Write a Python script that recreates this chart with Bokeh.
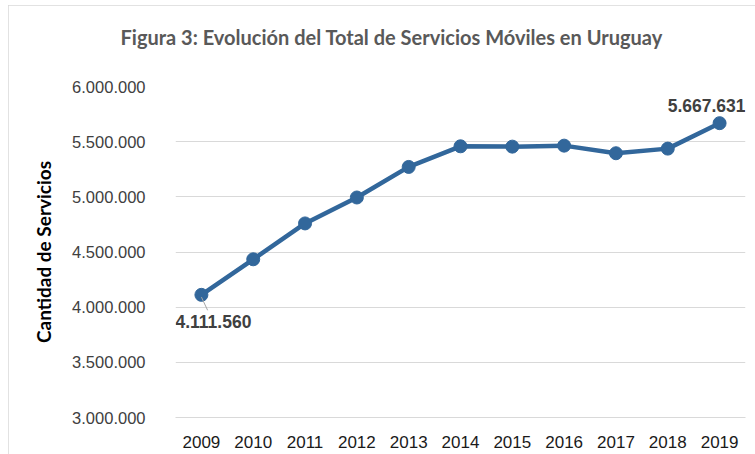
from bokeh.plotting import figure
from bokeh.models import Range1d, FixedTicker, Title, ColumnDataSource
from bokeh.core.properties import value
from bokeh.embed import file_html
from bokeh.resources import INLINE

years = ["2009", "2010", "2011", "2012", "2013", "2014", "2015", "2016", "2017", "2018", "2019"]
services = [4111560, 4434000, 4759000, 4994000, 5271000, 5458000, 5455000, 5464000, 5395000, 5437000, 5667631]
y_ticks = [3000000, 3500000, 4000000, 4500000, 5000000, 5500000, 6000000]
y_tick_labels = ["3.000.000", "3.500.000", "4.000.000", "4.500.000", "5.000.000", "5.500.000", "6.000.000"]
label_years = ["2009", "2019"]
label_texts = ["4.111.560", "5.667.631"]

LINE = "#32679B"
GRID = "#D9D9D9"

p = figure(width=747, height=449, x_range=years, y_range=Range1d(3000000, 6000000),
           output_backend="svg", toolbar_location=None, title=None,
           min_border_left=167, min_border_right=10, min_border_top=81, min_border_bottom=37)
p.x_range.range_padding = 0
p.outline_line_color = None
p.background_fill_color = "white"
p.border_fill_color = "white"

# invisible spacer panel between the frame and the title
spacer = Title(text=" ", standoff=7, text_font="Lato", text_font_size="20px")
p.add_layout(spacer, "above")
title = Title(text="Figura 3: Evolución del Total de Servicios Móviles en Uruguay",
              align="left", offset=-55, standoff=10,
              text_font="Lato", text_font_size="20px", text_font_style="bold",
              text_color="#595959")
p.add_layout(title, "above")

p.yaxis.ticker = FixedTicker(ticks=y_ticks)
p.yaxis.major_label_overrides = {t: l for t, l in zip(y_ticks, y_tick_labels)}
p.yaxis.axis_line_color = None
p.yaxis.major_tick_line_color = None
p.yaxis.minor_tick_line_color = None
p.yaxis.major_label_standoff = 24
p.yaxis.major_label_text_font = "Liberation Sans"
p.yaxis.major_label_text_font_size = "16.5px"
p.yaxis.major_label_text_color = "#404040"
p.yaxis.axis_label = "Cantidad de Servicios"
p.yaxis.axis_label_text_font = "Lato"
p.yaxis.axis_label_text_font_size = "19px"
p.yaxis.axis_label_text_font_style = "bold"
p.yaxis.axis_label_text_color = "#000000"
p.yaxis.axis_label_standoff = 14

p.xaxis.axis_line_color = GRID
p.xaxis.major_tick_line_color = None
p.xaxis.minor_tick_line_color = None
p.xaxis.major_label_standoff = 12
p.xaxis.major_label_text_font = "Liberation Sans"
p.xaxis.major_label_text_font_size = "17px"
p.xaxis.major_label_text_color = "#1a1a1a"

p.xgrid.grid_line_color = None
p.ygrid.grid_line_color = GRID
p.ygrid.grid_line_width = 1

src = ColumnDataSource(dict(x=years, y=services))
p.line("x", "y", source=src, line_color=LINE, line_width=4.5)
p.scatter("x", "y", source=src, size=13, fill_color=LINE, line_color=LINE)

# leader line for the first data label
v0 = services[years.index(label_years[0])]
p.segment(x0=[(label_years[0], 0.0)], y0=[v0 - 20000], x1=[(label_years[0], 0.12)], y1=[v0 - 140000],
          line_color="#A6A6A6", line_width=1)

lab_vals = [services[years.index(y)] for y in label_years]
p.text(x=[label_years[0]], y=[lab_vals[0]], text=[label_texts[0]], x_offset=12, y_offset=27,
       text_align="center", text_baseline="middle", text_font=value("Liberation Sans"),
       text_font_size="17.5px", text_font_style="bold", text_color="#404040")
p.text(x=[label_years[1]], y=[lab_vals[1]], text=[label_texts[1]], x_offset=-13, y_offset=-18,
       text_align="center", text_baseline="middle", text_font=value("Liberation Sans"),
       text_font_size="17.5px", text_font_style="bold", text_color="#404040")

p.styles = {"margin-left": "8px", "margin-top": "5px",
            "outline": "2px solid #D9D9D9", "outline-offset": "-2px"}

open("out.html", "w").write(file_html(p, INLINE))
